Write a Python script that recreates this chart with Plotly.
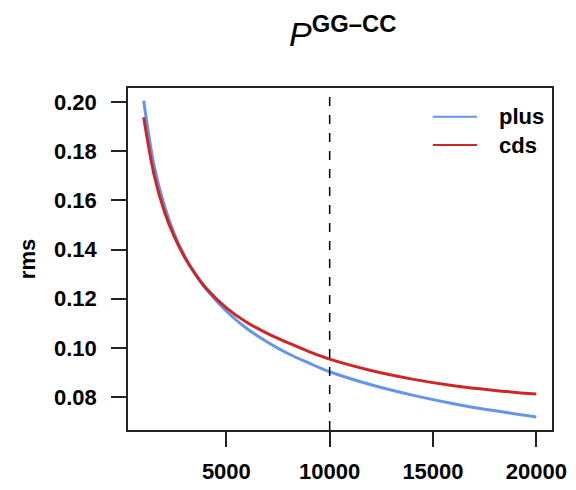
import plotly.graph_objects as go

sizes = [1000, 1500, 2000, 2500, 3000, 3500, 4000, 5000, 6000, 7000, 8000, 9000,
         10000, 12000, 14000, 16000, 18000, 20000]
rms_plus = [0.2005, 0.1743, 0.1578, 0.1460, 0.1371, 0.1300, 0.1241, 0.1149, 0.1078,
            0.1023, 0.0976, 0.0938, 0.0903, 0.0850, 0.0808, 0.0773, 0.0744, 0.0719]
rms_cds = [0.1938, 0.1705, 0.1555, 0.1448, 0.1366, 0.1300, 0.1245, 0.1163, 0.1103,
           0.1058, 0.1020, 0.0985, 0.0954, 0.0908, 0.0873, 0.0846, 0.0827, 0.0812]
series_names = ["plus", "cds"]
series_colors = ["#6495ED", "#CD2626"]
x_ticks = [5000, 10000, 15000, 20000]
y_ticks = [0.08, 0.10, 0.12, 0.14, 0.16, 0.18, 0.20]
cutoff = 10000

FONT = "Liberation Sans, Arial, Helvetica, sans-serif"

fig = go.Figure()
for name, vals, col in zip(series_names, [rms_plus, rms_cds], series_colors):
    fig.add_trace(go.Scatter(x=sizes, y=vals, mode="lines", name=name, showlegend=False,
                             line=dict(color=col, width=3, shape="spline", smoothing=1.0)))

fig.add_shape(type="line", x0=cutoff, x1=cutoff, xref="x", yref="paper", y0=0, y1=1,
              line=dict(color="black", width=1.5, dash="dash"))

# legend (top-right, no box), drawn in paper coordinates
leg_y = [0.916, 0.833]
for name, col, ly in zip(series_names, series_colors, leg_y):
    fig.add_shape(type="line", xref="paper", yref="paper", x0=0.719, x1=0.823, y0=ly, y1=ly,
                  line=dict(color=col, width=2))
    fig.add_annotation(text=f"<b>{name}</b>", xref="paper", yref="paper", x=0.870, y=ly,
                       xanchor="left", yanchor="middle", showarrow=False,
                       font=dict(family=FONT, size=22, color="black"))

fig.add_annotation(text="<i>P</i><sup><b>GG\u2013CC</b></sup>", xref="paper", yref="paper",
                   x=0.505, y=1.165, showarrow=False, xanchor="center", yanchor="middle",
                   font=dict(family=FONT, size=34, color="black"))

fig.update_layout(
    width=576, height=490,
    margin=dict(l=128, r=24, t=88, b=60, autoexpand=False),
    paper_bgcolor="white", plot_bgcolor="white",
    font=dict(family=FONT, color="black"),
    showlegend=False,
    xaxis=dict(range=[240, 20760], tickvals=x_ticks, ticktext=[str(v) for v in x_ticks],
               showgrid=False, zeroline=False, showline=True, linecolor="#222",
               linewidth=1.5, mirror=True, ticks="outside", ticklen=15, tickwidth=1.5,
               tickcolor="#222", ticklabelstandoff=6, automargin=False,
               tickfont=dict(family=FONT, size=22, color="black", weight="bold")),
    yaxis=dict(range=[0.0666, 0.2057], tickvals=y_ticks, ticktext=[f"{v:.2f}" for v in y_ticks],
               showgrid=False, zeroline=False, showline=True, linecolor="#222",
               linewidth=1.5, mirror=True, ticks="outside", ticklen=15, tickwidth=1.5,
               tickcolor="#222", ticklabelstandoff=10, automargin=False,
               title=dict(text="<b>rms</b>", font=dict(family=FONT, size=22, color="black"),
                          standoff=12),
               tickfont=dict(family=FONT, size=22, color="black", weight="bold")),
)

fig.write_html("out.html")
